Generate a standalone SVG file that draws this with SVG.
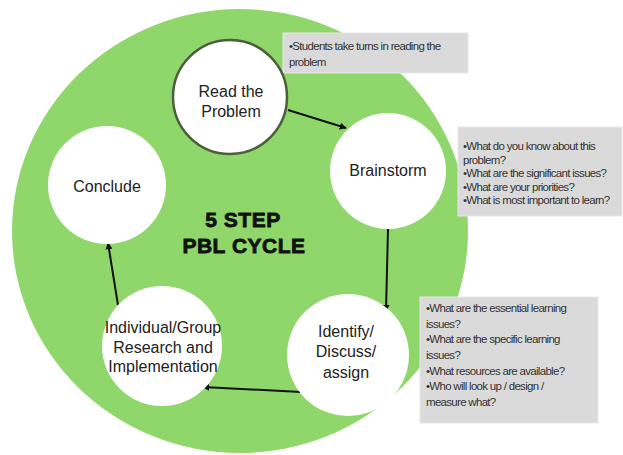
<svg xmlns="http://www.w3.org/2000/svg" width="623" height="455" viewBox="0 0 623 455">
<defs>
<marker id="ah" viewBox="0 0 10 10" refX="9" refY="5" markerWidth="7" markerHeight="7" orient="auto" markerUnits="userSpaceOnUse">
<path d="M0,0 L10,5 L0,10 z" fill="#111"/>
</marker>
<style>
.node{fill:#fff;}
.lbl{font-family:"Liberation Sans",Arial,sans-serif;font-size:16px;fill:#222;text-anchor:middle;}
.note{font-family:"Liberation Sans",Arial,sans-serif;font-size:11.5px;fill:#333;letter-spacing:-0.7px;}
.box{fill:#dadada;stroke:#e8e8e8;stroke-width:1;}
.conn{stroke:#111;stroke-width:2;fill:none;marker-end:url(#ah);}
.title{font-family:"Liberation Sans",Arial,sans-serif;font-size:21px;font-weight:bold;fill:#111;stroke:#111;stroke-width:0.8;text-anchor:middle;letter-spacing:0.5px;}
</style>
</defs>
<rect width="623" height="455" fill="#fff"/>
<ellipse id="cycle" cx="240" cy="231" rx="228" ry="222" fill="#8fd76b"/>
<g id="note1">
<rect class="box" x="283" y="33" width="185" height="40"/>
<text class="note" x="289" y="50">•Students take turns in reading the</text>
<text class="note" x="289" y="66">problem</text>
</g>
<g id="note2">
<rect class="box" x="458" y="127" width="164" height="89"/>
<text class="note" x="463" y="150">•What do you know about this</text>
<text class="note" x="463" y="163.5">problem?</text>
<text class="note" x="463" y="177">•What are the significant issues?</text>
<text class="note" x="463" y="190.5">•What are your priorities?</text>
<text class="note" x="463" y="204">•What is most important to learn?</text>
</g>
<g id="note3">
<rect class="box" x="420" y="297" width="178" height="126"/>
<text class="note" x="426" y="312">•What are the essential learning</text>
<text class="note" x="426" y="327.5">issues?</text>
<text class="note" x="426" y="343">•What are the specific learning</text>
<text class="note" x="426" y="358.5">issues?</text>
<text class="note" x="426" y="374.5">•What resources are available?</text>
<text class="note" x="426" y="390">•Who will look up / design /</text>
<text class="note" x="426" y="406">measure what?</text>
</g>
<g id="connectors">
<line class="conn" x1="288" y1="110" x2="346" y2="128"/>
<line class="conn" x1="388" y1="229" x2="386" y2="311"/>
<line class="conn" x1="301" y1="392" x2="203" y2="387"/>
<line class="conn" x1="118" y1="305" x2="108" y2="243"/>
</g>
<g id="read">
<circle cx="230" cy="97" r="57" class="node" stroke="#4b5f3c" stroke-width="2.5"/>
<text class="lbl" x="231" y="97">Read the</text>
<text class="lbl" x="231" y="117">Problem</text>
</g>
<g id="brainstorm">
<circle cx="388" cy="171" r="58" class="node"/>
<text class="lbl" x="388" y="176">Brainstorm</text>
</g>
<g id="identify">
<circle cx="348" cy="355" r="61" class="node"/>
<text class="lbl" x="346" y="337">Identify/</text>
<text class="lbl" x="346" y="357">Discuss/</text>
<text class="lbl" x="346" y="378">assign</text>
</g>
<g id="research">
<circle cx="162" cy="346" r="60" class="node"/>
<text class="lbl" x="163" y="333">Individual/Group</text>
<text class="lbl" x="163" y="353">Research and</text>
<text class="lbl" x="163" y="372">Implementation</text>
</g>
<g id="conclude">
<circle cx="107" cy="185" r="59" class="node"/>
<text class="lbl" x="107" y="192">Conclude</text>
</g>
<g id="title">
<text class="title" x="243" y="227">5 STEP</text>
<text class="title" x="244" y="253">PBL CYCLE</text>
</g>
</svg>
